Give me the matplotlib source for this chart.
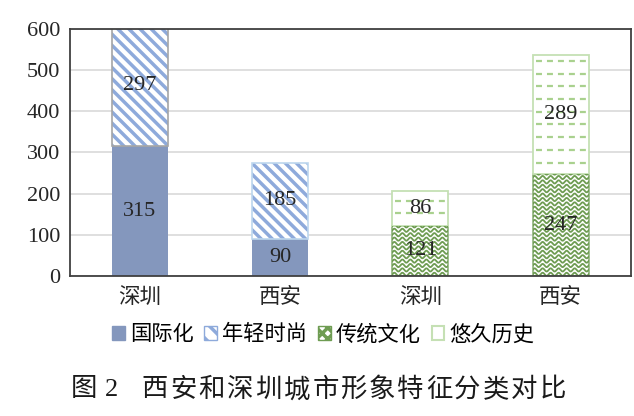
import matplotlib.pyplot as plt
import numpy as np
from matplotlib.patches import Patch, Rectangle

cities = ['深圳', '西安', '深圳', '西安']
intl = [315, 90, 0, 0]      # 国际化
young = [297, 185, 0, 0]    # 年轻时尚
trad = [0, 0, 121, 247]     # 传统文化
hist = [0, 0, 86, 289]      # 悠久历史
series_names = ['国际化', '年轻时尚', '传统文化', '悠久历史']
yticks = [0, 100, 200, 300, 400, 500, 600]
caption_head = ['图', '2']
caption_body = '西安和深圳城市形象特征分类对比'

plt.rcParams['font.family'] = ['Liberation Serif', 'Noto Sans CJK SC']
plt.rcParams['hatch.linewidth'] = 2.5
plt.rcParams['lines.scale_dashes'] = False

W, H = 634, 416
fig = plt.figure(figsize=(W / 100, H / 100), dpi=100)
pos = [0.110, 0.337, 0.885, 0.593]
ax = fig.add_axes(pos)
ax.set_xlim(-0.5, 3.5)
ax.set_ylim(0, 600)

# data units per pixel
px_x = 4 / (pos[2] * W)
px_y = 600 / (pos[3] * H)

x = np.arange(len(cities))
bw = 0.4
c_intl = '#8497bd'
c_young = '#8eaadb'
c_trad = '#6e9c52'
c_hist = '#a9d18e'

# 国际化
for xi, v in zip(x, intl):
    if v:
        ax.bar(xi, v, bw, color=c_intl, lw=0, zorder=2)

# 年轻时尚: diagonal stripes
young_edges = ['#a6a6a6', '#bdd7ee']
for i, (xi, v) in enumerate(zip(x, young)):
    if v:
        ax.bar(xi, v, bw, bottom=intl[i], facecolor='white', edgecolor=c_young,
               hatch='\\\\\\', lw=0, zorder=2)
        ax.bar(xi, v, bw, bottom=intl[i], fill=False, edgecolor=young_edges[i],
               lw=1.2, zorder=3)


def clip_rect(x0, y0, w, h):
    return Rectangle((x0, y0), w, h, transform=ax.transData)


# 传统文化: wavy lines
for xi, v in zip(x, trad):
    if not v:
        continue
    x0 = xi - bw / 2
    ax.bar(xi, v, bw, facecolor='white', edgecolor='#8fb37c', lw=1.2, zorder=2)
    rect = clip_rect(x0, 0, bw, v)
    xs = np.linspace(x0, x0 + bw, 300)
    period = 8 * px_x
    yc = 1.5 * px_y
    while yc < v + 3 * px_y:
        ys = yc + 1.6 * px_y * np.sin(2 * np.pi * (xs - x0) / period)
        ln, = ax.plot(xs, ys, color=c_trad, lw=1.3, zorder=2.5)
        ln.set_clip_path(rect)
        yc += 4.4 * px_y

# 悠久历史: dashed horizontal lines
for i, (xi, v) in enumerate(zip(x, hist)):
    if not v:
        continue
    x0 = xi - bw / 2
    b = trad[i]
    ax.bar(xi, v, bw, bottom=b, facecolor='white', edgecolor='#c5e0b4',
           lw=1.3, zorder=2)
    rect = clip_rect(x0, b, bw, v)
    n = 0
    while True:
        yr = (11.7 + 12.7 * n) * px_y
        n += 1
        if yr < b + 3 * px_y:
            continue
        if yr > b + v - 3 * px_y:
            break
        ln, = ax.plot([x0 + 3 * px_x, x0 + bw], [yr, yr], color=c_hist, lw=1.6,
                      linestyle=(0, (4.3, 3.6)), zorder=2.5)
        ln.set_clip_path(rect)

# value labels
for i in range(len(x)):
    segs = [(0, intl[i]), (intl[i], young[i]), (0, trad[i]), (trad[i], hist[i])]
    for b, v in segs:
        if v:
            ax.text(x[i], b + v / 2, str(v), ha='center', va='center',
                    fontsize=16, color='#262626', zorder=5)

ax.set_yticks(yticks)
ax.set_xticks(x, cities)
ax.tick_params(axis='y', length=0, pad=7, labelsize=16, labelcolor='#262626')
ax.tick_params(axis='x', length=0, pad=9, labelsize=15.5, labelcolor='#262626')
ax.yaxis.grid(True, color='#d9d9d9', lw=1.2)
ax.set_axisbelow(True)
for s in ax.spines.values():
    s.set_color('#404040')
    s.set_linewidth(1.3)
    s.set_zorder(6)

handles = [
    Patch(facecolor=c_intl, edgecolor=c_intl),
    Patch(facecolor='white', edgecolor=c_young, hatch='\\\\'),
    Patch(facecolor='white', edgecolor=c_trad, hatch='xxx'),
    Patch(facecolor='white', edgecolor='#c5e0b4', lw=1.5),
]
fig.legend(handles, series_names, loc='center', bbox_to_anchor=(0.51, 1 - 335 / H),
           ncol=4, frameon=False, fontsize=15.3, handlelength=0.6, handleheight=0.6,
           handletextpad=0.25, columnspacing=0.5, borderpad=0)

# caption, characters spaced out like the printed figure title
cy = 1 - 390 / H
fig.text(84 / W, cy, caption_head[0], ha='center', va='center', fontsize=19,
         color='#1a1a1a')
fig.text(111 / W, cy, caption_head[1], ha='center', va='center', fontsize=19,
         color='#1a1a1a')
for k, ch in enumerate(caption_body):
    fig.text((155 + 28.4 * k) / W, cy, ch, ha='center', va='center', fontsize=19,
             color='#1a1a1a')

fig.savefig('out.png', dpi=100)
